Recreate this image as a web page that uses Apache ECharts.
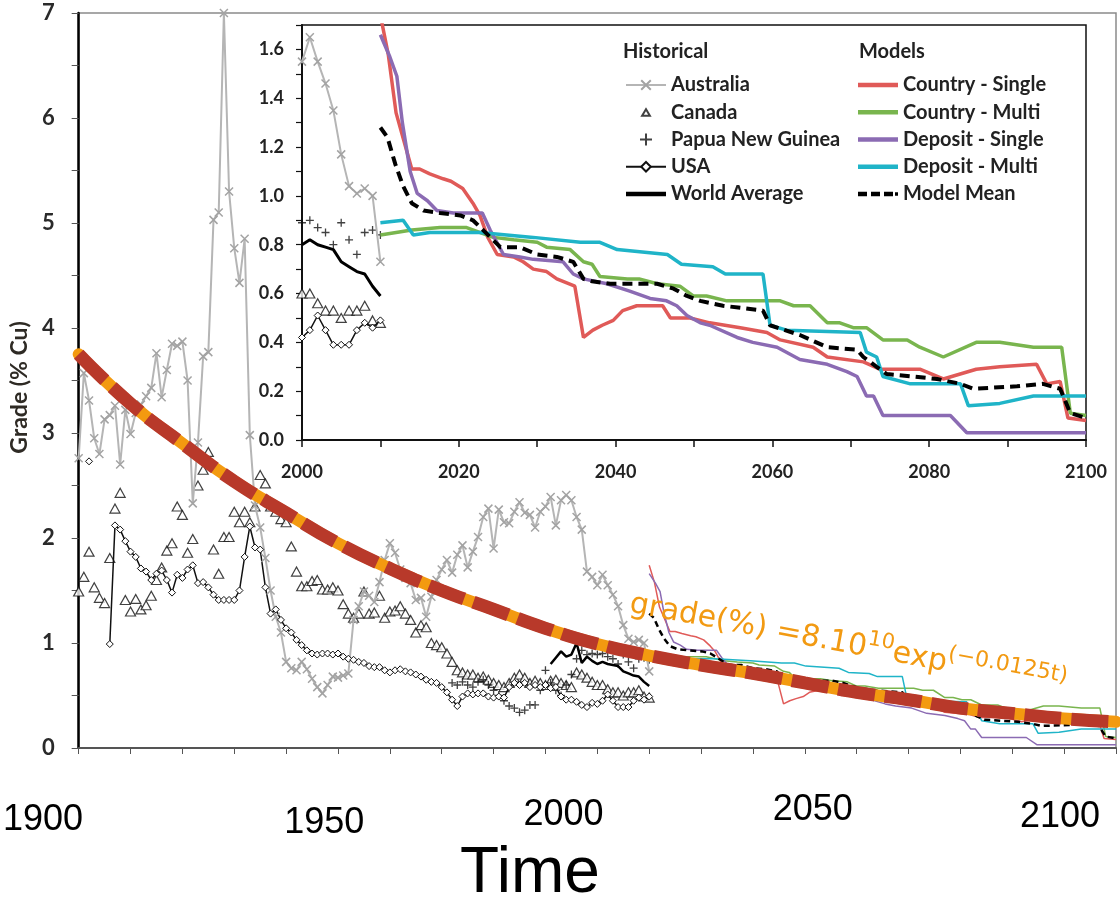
<!DOCTYPE html>
<html>
<head>
<meta charset="utf-8">
<title>Copper ore grade</title>
<script src="https://cdn.jsdelivr.net/npm/echarts@6/dist/echarts.min.js"></script>
<style>
html, body { margin: 0; padding: 0; background: #fff; }
#chart { width: 1120px; height: 922px; }
</style>
</head>
<body>
<div id="chart"></div>
<script>
// historical grades (% Cu), one value per year from histStart
var histStart = 1900;
var australia = [
	2.76, 3.57, 3.31, 2.95, 2.80, 3.13, 3.17, 3.26, 2.70, 3.22,
	2.99, 3.19, 3.27, 3.35, 3.43, 3.76, 3.34, 3.60, 3.85, 3.83,
	3.87, 3.50, 2.33, 2.91, 3.73, 3.77, 5.03, 5.10, 7.00, 5.30,
	4.76, 4.43, 4.85, 2.98, 2.31, 2.10, 1.81, 1.50, 1.25, 1.10,
	0.82, 0.76, 0.74, 0.82, 0.75, 0.66, 0.58, 0.52, 0.60, 0.68,
	0.67, 0.69, 0.71, 1.22, 1.35, 1.49, 1.45, 1.39, 1.58, 1.79,
	1.95, 1.86, 1.70, 1.62, 1.57, 1.41, 1.43, 1.25, 1.44, 1.60,
	1.70, 1.79, 1.67, 1.84, 1.93, 1.72, 1.87, 2.01, 2.20, 2.28,
	1.90, 2.27, 2.15, 2.14, 2.25, 2.34, 2.24, 2.22, 2.10, 2.25,
	2.30, 2.39, 2.12, 2.36, 2.41, 2.36, 2.20, 2.08, 1.68, 1.63,
	1.55, 1.65, 1.55, 1.46, 1.35, 1.17, 1.04, 1.01, 1.03, 1.00, 0.73
];
var canada = [
	1.49, 1.63, 1.87, 1.53, 1.43, 1.38, 1.81, 2.28, 2.43, 1.41,
	1.30, 1.42, 1.32, 1.36, 1.45, 1.60, 1.72, 1.88, 1.95, 2.30,
	2.22, 1.86, 1.99, 2.50, 2.65, 2.82, 1.89, 1.66, 2.01, 2.01,
	2.25, 2.15, 2.25, 2.15, 2.30, 2.60, 2.52, 2.30, 2.25, 2.18,
	2.15, 1.92, 1.68, 1.54, 1.54, 1.59, 1.60, 1.51, 1.51, 1.53,
	1.50, 1.37, 1.28, 1.24, 1.28, 1.49, 1.28, 1.29, 1.45, 1.24,
	1.30, 1.31, 1.35, 1.28, 1.22, 1.10, 1.17, 1.15, 1.00, 0.98,
	0.96, 0.90, 0.82, 0.74, 0.72, 0.70, 0.70, 0.67, 0.68, 0.65,
	0.62, 0.60, 0.58, 0.62, 0.67, 0.70, 0.67, 0.62, 0.64, 0.62,
	0.60, 0.64, 0.65, 0.62, 0.60, 0.58, 0.72, 0.70, 0.67, 0.63,
	0.60, 0.60, 0.56, 0.53, 0.53, 0.50, 0.53, 0.53, 0.55, 0.49, 0.48
];
var usa = [
	null, null, 2.73, null, null, null, 0.99, 2.12, 2.08, 1.97,
	1.87, 1.82, 1.71, 1.68, 1.60, 1.66, 1.69, 1.60, 1.48, 1.65,
	1.62, 1.70, 1.74, 1.57, 1.58, 1.53, 1.46, 1.41, 1.41, 1.41,
	1.41, 1.50, 1.82, 2.11, 1.91, 1.89, 1.53, 1.28, 1.32, 1.22,
	1.14, 1.10, 1.03, 0.98, 0.93, 0.90, 0.89, 0.90, 0.90, 0.89,
	0.90, 0.87, 0.85, 0.84, 0.82, 0.81, 0.78, 0.77, 0.77, 0.74,
	0.72, 0.74, 0.75, 0.73, 0.72, 0.70, 0.68, 0.65, 0.63, 0.62,
	0.58, 0.53, 0.46, 0.40, 0.49, 0.52, 0.51, 0.52, 0.52, 0.49,
	0.48, 0.49, 0.48, 0.58, 0.62, 0.60, 0.62, 0.58, 0.60, 0.58,
	0.60, 0.57, 0.58, 0.49, 0.46, 0.46, 0.44, 0.41, 0.39, 0.43,
	0.42, 0.45, 0.51, 0.45, 0.39, 0.39, 0.39, 0.45, 0.48, 0.46, 0.49
];
var pngStart = 1972;
var png = [
	0.62, 0.60, 0.63, 0.60, 0.58, 0.63, 0.65, 0.60,
	0.55, 0.50, 0.45, 0.40, 0.38, 0.34, 0.36, 0.41, 0.41, 0.55,
	0.74, 0.62, 0.55, 0.50, 0.60, 0.70, 0.85, 0.93, 0.89, 0.90,
	0.89, 0.90, 0.87, 0.85, 0.80, 0.89, 0.82, 0.76, 0.85, 0.86, 0.84
];
var worldStart = 1991;
var worldAverage = [
	0.80, 0.86, 0.92, 0.87, 0.89, 1.00, 0.81, 0.87, 0.83,
	0.80, 0.82, 0.80, 0.79, 0.78, 0.73, 0.71, 0.69, 0.68, 0.63, 0.59
];

// model projections, [year, grade]
var countrySingle = [[2010, 1.74], [2011, 1.58], [2012, 1.34], [2012.7, 1.26], [2014, 1.11], [2015, 1.11], [2016.3, 1.09], [2018, 1.07], [2019, 1.06], [2020.5, 1.03], [2021.8, 0.97], [2022.7, 0.92], [2023.7, 0.83], [2024.9, 0.76], [2027, 0.75], [2028.2, 0.73], [2029.5, 0.70], [2031.2, 0.69], [2032.5, 0.66], [2034.8, 0.63], [2035.9, 0.42], [2037.1, 0.45], [2038.3, 0.47], [2039.7, 0.49], [2040.9, 0.53], [2042.7, 0.55], [2046, 0.55], [2047, 0.50], [2049.5, 0.50], [2052, 0.48], [2055.9, 0.46], [2059.3, 0.44], [2061, 0.41], [2065.2, 0.38], [2067, 0.34], [2071.6, 0.32], [2073.7, 0.29], [2078.8, 0.29], [2081.8, 0.25], [2086, 0.29], [2089, 0.30], [2093.7, 0.31], [2095, 0.23], [2096.7, 0.24], [2097.7, 0.09], [2100, 0.08]];
var countryMulti = [[2010, 0.84], [2014, 0.86], [2017.6, 0.87], [2021, 0.87], [2024.4, 0.83], [2027, 0.82], [2030, 0.81], [2031.2, 0.79], [2034.2, 0.78], [2035.9, 0.73], [2037, 0.72], [2038, 0.67], [2041.5, 0.66], [2043, 0.66], [2045.3, 0.64], [2048.2, 0.63], [2049.9, 0.59], [2051.6, 0.59], [2054.2, 0.57], [2061, 0.57], [2062.7, 0.55], [2064.8, 0.55], [2067, 0.48], [2068.6, 0.48], [2070.3, 0.46], [2072, 0.46], [2074.1, 0.41], [2077.2, 0.41], [2078.8, 0.38], [2081.8, 0.34], [2086, 0.40], [2089, 0.40], [2093.3, 0.38], [2096.9, 0.38], [2098, 0.11], [2100, 0.10]];
var depositSingle = [[2010, 1.66], [2011.2, 1.57], [2012.1, 1.49], [2012.8, 1.30], [2013.8, 1.10], [2014.7, 1.01], [2016, 0.98], [2017.2, 0.94], [2019.3, 0.93], [2023, 0.93], [2024, 0.86], [2025.7, 0.76], [2027.8, 0.75], [2029.5, 0.74], [2033.3, 0.73], [2034.6, 0.68], [2035.9, 0.66], [2038.9, 0.64], [2041.8, 0.61], [2044.4, 0.58], [2046.5, 0.57], [2047.8, 0.55], [2049.1, 0.51], [2050.8, 0.48], [2052, 0.47], [2055.5, 0.42], [2057.5, 0.40], [2060.6, 0.38], [2063.5, 0.33], [2067, 0.31], [2069.5, 0.28], [2070.8, 0.26], [2072, 0.18], [2072.9, 0.18], [2074.1, 0.10], [2076.3, 0.10], [2082.7, 0.10], [2084.8, 0.03], [2100, 0.03]];
var depositMulti = [[2010, 0.89], [2012.9, 0.90], [2014.2, 0.84], [2016.3, 0.85], [2022.7, 0.85], [2029.5, 0.83], [2035.5, 0.81], [2038, 0.81], [2040.2, 0.78], [2046.6, 0.76], [2048.4, 0.72], [2052.4, 0.71], [2054, 0.68], [2058.8, 0.68], [2059.7, 0.47], [2061.8, 0.45], [2071.2, 0.44], [2072, 0.36], [2073.3, 0.34], [2074.1, 0.26], [2077.6, 0.23], [2084, 0.23], [2085, 0.14], [2089, 0.15], [2093.3, 0.18], [2100, 0.18]];
var modelMean = [[2010, 1.28], [2010.9, 1.24], [2011.9, 1.13], [2012.9, 1.04], [2014, 0.97], [2015.5, 0.94], [2017.6, 0.93], [2020.2, 0.92], [2021.8, 0.90], [2023.1, 0.86], [2025.3, 0.79], [2027.8, 0.79], [2030, 0.76], [2032.5, 0.75], [2034.6, 0.73], [2035.9, 0.66], [2037, 0.65], [2039.3, 0.64], [2045.3, 0.64], [2047.4, 0.62], [2049.1, 0.59], [2050.8, 0.57], [2053.7, 0.55], [2058.8, 0.53], [2059.7, 0.47], [2063.5, 0.43], [2067, 0.38], [2070.8, 0.37], [2071.6, 0.34], [2073.3, 0.30], [2074.6, 0.27], [2077.9, 0.26], [2081, 0.25], [2084, 0.23], [2085.6, 0.21], [2091.2, 0.22], [2094.5, 0.23], [2096.7, 0.21], [2098, 0.11], [2100, 0.09]];

// exponential fit drawn over the whole figure
var fitYears = [1900, 1910, 1920, 1930, 1940, 1950, 1960, 1970, 1980, 1990, 2000, 2010, 2020, 2030, 2040, 2050, 2060, 2070, 2080, 2090, 2100];
var fitGrade = [3.75, 3.28, 2.90, 2.54, 2.24, 1.95, 1.71, 1.50, 1.32, 1.14, 0.99, 0.88, 0.79, 0.71, 0.62, 0.53, 0.46, 0.38, 0.33, 0.28, 0.25];

var xMark = 'path://M0,0L10,10M0,10L10,0';
var plusMark = 'path://M5,0L5,10M0,5L10,5';
var barIcon = 'path://M0,0L40,0L40,4.5L0,4.5Z';
var dashIcon = 'path://M0,0h9v4.5h-9zM13,0h9v4.5h-9zM26,0h9v4.5h-9zM37,0.5h3v3.5h-3z';
var triIcon = 'path://M0,0L0,0M20,20L20,20M3.5,16L10,5L16.5,16Z';
var labelFont = 'Lato, "Liberation Sans", sans-serif';
var tickFont = '"Liberation Sans", Arial, sans-serif';

function yearly(start, values, from) {
	var out = [];
	for (var i = 0; i < values.length; i++) {
		var yr = start + i;
		if (yr < from) continue;
		out.push([yr, values[i] == null ? '-' : values[i]]);
	}
	return out;
}

function pairs(xs, ys) {
	var out = [];
	for (var i = 0; i < xs.length; i++) out.push([xs[i], ys[i]]);
	return out;
}

function historical(idx, from) {
	return [{
		name: 'Australia', type: 'line', xAxisIndex: idx, yAxisIndex: idx,
		data: yearly(histStart, australia, from),
		symbol: xMark, symbolSize: 8,
		lineStyle: { color: '#b5b5b5', width: 2 },
		itemStyle: { color: '#a3a3a3', borderColor: '#a3a3a3', borderWidth: 1.5 }
	}, {
		name: 'Canada', type: 'scatter', xAxisIndex: idx, yAxisIndex: idx,
		data: yearly(histStart, canada, from),
		symbol: 'triangle', symbolSize: [10, 9],
		itemStyle: { color: '#fff', borderColor: '#111', borderWidth: 1.2 }
	}, {
		name: 'Papua New Guinea', type: 'scatter', xAxisIndex: idx, yAxisIndex: idx,
		data: yearly(pngStart, png, from),
		symbol: plusMark, symbolSize: 8,
		itemStyle: { color: '#111', borderColor: '#111', borderWidth: 1.3 }
	}, {
		name: 'USA', type: 'line', xAxisIndex: idx, yAxisIndex: idx,
		data: yearly(histStart, usa, from),
		symbol: 'diamond', symbolSize: 7, connectNulls: false,
		lineStyle: { color: '#111', width: 1.5 },
		itemStyle: { color: '#fff', borderColor: '#111', borderWidth: 1 }
	}, {
		name: 'World Average', type: 'line', xAxisIndex: idx, yAxisIndex: idx,
		data: yearly(worldStart, worldAverage, from),
		symbol: 'none',
		lineStyle: { color: '#000', width: idx == 1 ? 3 : 2.5 },
		itemStyle: { color: '#000' }
	}];
}

function models(idx) {
	var w = idx == 1 ? 3.5 : 1.5;
	var list = [
		['Country - Single', countrySingle, '#e05a58'],
		['Country - Multi', countryMulti, '#79b54e'],
		['Deposit - Single', depositSingle, '#8b6bb3'],
		['Deposit - Multi', depositMulti, '#1fb4c8']
	];
	var out = [];
	for (var i = 0; i < list.length; i++) {
		out.push({
			name: list[i][0], type: 'line', xAxisIndex: idx, yAxisIndex: idx,
			data: list[i][1], symbol: 'none',
			lineStyle: { color: list[i][2], width: w },
			itemStyle: { color: list[i][2] }
		});
	}
	out.push({
		name: 'Model Mean', type: 'line', xAxisIndex: idx, yAxisIndex: idx,
		data: modelMean, symbol: 'none', z: 3,
		lineStyle: { color: '#000', width: idx == 1 ? 4 : 2.5, type: idx == 1 ? [10, 6] : [6, 4] },
		itemStyle: { color: '#000' }
	});
	return out;
}

var chart = echarts.init(document.getElementById('chart'));

var legendText = { fontFamily: labelFont, fontWeight: 'bold', fontSize: 20, color: '#222', lineHeight: 20 };

function yearLabel(pad) {
	return { fontFamily: tickFont, fontSize: 36, color: '#000', lineHeight: 36, padding: pad };
}

var option = {
	animation: false,
	backgroundColor: '#fff',
	grid: [
		{ left: 76, right: 4, top: 13, bottom: 174, show: true, borderColor: '#8a8a8a', borderWidth: 1.5 },
		{ left: 302, right: 34, top: 25, bottom: 482, show: true, borderColor: '#111', borderWidth: 1.5 },
		{ left: 40, right: 60, top: 13, bottom: 174 }
	],
	xAxis: [{
		type: 'value', gridIndex: 0, min: 1900, max: 2100, interval: 10,
		axisLine: { lineStyle: { color: '#555', width: 2 } },
		axisTick: { length: 6, lineStyle: { color: '#555' } },
		axisLabel: { show: false },
		splitLine: { show: false }
	}, {
		type: 'value', gridIndex: 1, min: 2000, max: 2100, interval: 10,
		axisLine: { lineStyle: { color: '#111', width: 2 } },
		axisTick: { length: 7, lineStyle: { color: '#111', width: 1.5 } },
		axisLabel: {
			margin: 23, fontFamily: labelFont, fontWeight: 'bold', fontSize: 18, color: '#222',
			formatter: function(v) { return v % 20 === 0 ? String(v) : ''; }
		},
		splitLine: { show: false }
	}, {
		type: 'value', gridIndex: 2, min: 1900, max: 2100, interval: 50,
		axisLine: { show: false }, axisTick: { show: false }, splitLine: { show: false },
		axisLabel: {
			margin: 44, showMinLabel: true, showMaxLabel: true,
			formatter: function(v) { return '{y' + v + '|' + v + '}'; },
			rich: {
				y1900: yearLabel([20, 0, 0, 0]),
				y1950: yearLabel([26, 0, 0, 54]),
				y2000: yearLabel([10, 0, 0, 24]),
				y2050: yearLabel([0, 0, 0, 14]),
				y2100: yearLabel([14, 0, 0, 0])
			}
		}
	}],
	yAxis: [{
		type: 'value', gridIndex: 0, min: 0, max: 7, interval: 0.5,
		name: 'Grade (% Cu)', nameLocation: 'middle', nameRotate: 90, nameGap: 39,
		nameTextStyle: { fontFamily: labelFont, fontWeight: 'bold', fontSize: 23, color: '#2e2a24', padding: [0, 14, 0, 0] },
		axisLine: { lineStyle: { color: '#000', width: 2.5 } },
		axisTick: { length: 7, lineStyle: { color: '#555' } },
		axisLabel: {
			margin: 24, fontFamily: labelFont, fontWeight: 'bold', fontSize: 22, color: '#2a2a2a',
			formatter: function(v) { return v % 1 === 0 ? String(v) : ''; }
		},
		splitLine: { show: false }
	}, {
		type: 'value', gridIndex: 1, min: 0, max: 1.7, interval: 0.1,
		axisLine: { lineStyle: { color: '#111', width: 2 } },
		axisTick: { length: 6, lineStyle: { color: '#111', width: 1.2 } },
		axisLabel: {
			margin: 18, fontFamily: labelFont, fontWeight: 'bold', fontSize: 18, color: '#222',
			formatter: function(v) {
				var k = Math.round(v * 10);
				return (k % 2 === 0 && k <= 16) ? (k / 10).toFixed(1) : '';
			}
		},
		splitLine: { show: false }
	}, {
		type: 'value', gridIndex: 2, min: 0, max: 7, show: false
	}],
	legend: [{
		data: [
			{ name: 'Australia' },
			{ name: 'Canada', icon: triIcon },
			{ name: 'Papua New Guinea' },
			{ name: 'USA' },
			{ name: 'World Average', icon: barIcon }
		],
		orient: 'vertical', left: 620, top: 70, itemWidth: 40, itemHeight: 12, itemGap: 7.25,
		selectedMode: false, textStyle: legendText
	}, {
		data: [
			{ name: 'Country - Single', icon: barIcon },
			{ name: 'Country - Multi', icon: barIcon },
			{ name: 'Deposit - Single', icon: barIcon },
			{ name: 'Deposit - Multi', icon: barIcon },
			{ name: 'Model Mean', icon: dashIcon }
		],
		orient: 'vertical', left: 853, top: 70, itemWidth: 40, itemHeight: 12, itemGap: 7.25,
		selectedMode: false, textStyle: legendText
	}],
	graphic: [{
		type: 'text', left: 623, top: 42,
		style: { text: 'Historical', font: 'bold 20px ' + labelFont, fill: '#222' }
	}, {
		type: 'text', left: 859, top: 42,
		style: { text: 'Models', font: 'bold 20px ' + labelFont, fill: '#222' }
	}, {
		type: 'text', x: 530, y: 874,
		style: { text: 'Time', font: '64px "Liberation Sans Narrow", "Arial Narrow", sans-serif', fill: '#000', align: 'center', verticalAlign: 'middle' }
	}, {
		type: 'text', x: 630, y: 604, rotation: -0.185, z: 20,
		style: {
			text: '{a|grade(%) =8.10}{b|10}{a|exp}{c|(\u22120.0125t)}',
			align: 'left', verticalAlign: 'middle',
			rich: {
				a: { fontFamily: '"DejaVu Sans", sans-serif', fontSize: 30, fill: '#f29a12', lineHeight: 40 },
				b: { fontFamily: '"DejaVu Sans", sans-serif', fontSize: 21, fill: '#f29a12', lineHeight: 22, verticalAlign: 'top' },
				c: { fontFamily: '"DejaVu Sans", sans-serif', fontSize: 22, fill: '#f29a12', lineHeight: 30, verticalAlign: 'top' }
			}
		}
	}],
	series: []
};

option.series = option.series
	.concat(historical(1, 2000))
	.concat(models(1))
	.concat(historical(0, 1900))
	.concat(models(0))
	.concat([{
		name: 'fit', type: 'line', xAxisIndex: 0, yAxisIndex: 0, smooth: true, silent: true,
		data: pairs(fitYears, fitGrade), symbol: 'none', z: 10,
		lineStyle: { color: '#f39a10', width: 12, cap: 'round' }
	}, {
		name: 'fit dash', type: 'line', xAxisIndex: 0, yAxisIndex: 0, smooth: true, silent: true,
		data: pairs(fitYears, fitGrade), symbol: 'none', z: 11,
		lineStyle: { color: '#b8392a', width: 13, type: [37, 10], cap: 'butt' }
	}]);

chart.setOption(option);
</script>
</body>
</html>
